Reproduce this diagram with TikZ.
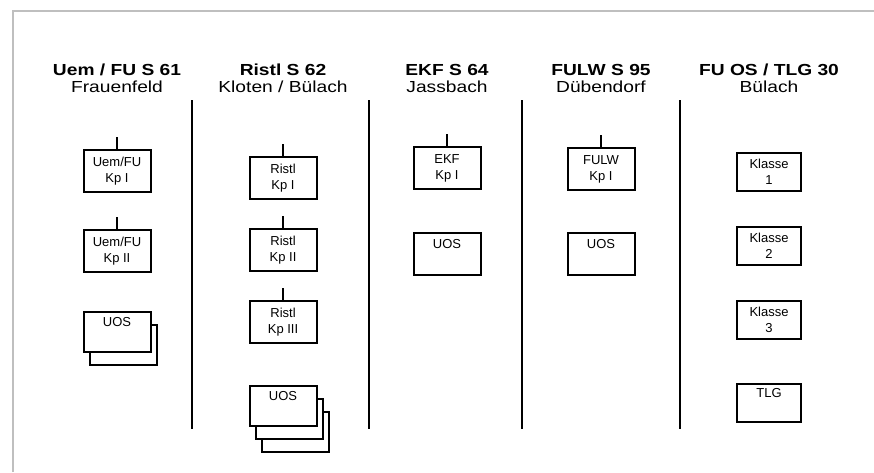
\documentclass[tikz,border=0pt]{standalone}
\usepackage{fontspec}
\setmainfont{Liberation Sans}
\newfontfamily\widesans[FakeStretch=1.2]{Liberation Sans}
\usetikzlibrary{positioning}

\begin{document}
\begin{tikzpicture}[x=1pt, y=-1pt, line width=2pt,
        every node/.style={inner sep=0pt},
        head/.style={anchor=base, font=\fontsize{16}{18}\widesans\bfseries},
        place/.style={anchor=base, font=\fontsize{16}{18}\widesans},
        unit/.style={draw, fill=white, align=center, minimum width=67pt, minimum height=42pt, font=\fontsize{13}{16}\selectfont},
        klasse/.style={unit, minimum width=64pt, minimum height=38pt}]
        \useasboundingbox (0,0) rectangle (874,472);
        % frame
        \draw[black!25] (13,472) -- (13,11) -- (874,11);
        % separators
        \foreach \x in {192,369,522,680} \draw (\x,100) -- (\x,429);
        % Uem / FU S 61
        \node[head] (h1) at (117,75) {Uem / FU S 61}; \node[place] (p1) at (117,92) {Frauenfeld};
        \node[unit] (uem1) at (117,171) {Uem/FU\\Kp I}; \draw (uem1.north) -- ++(0,-12);
        \node[unit] (uem2) at (117,251) {Uem/FU\\Kp II}; \draw (uem2.north) -- ++(0,-12);
        \node[unit, minimum height=40pt] (uosAb) at (123,345) {};
        \node[unit, minimum height=40pt] (uosA) at (117,332) {UOS\\\strut};
        % Ristl S 62
        \node[head] (h2) at (283,75) {Ristl S 62}; \node[place] (p2) at (283,92) {Kloten / Bülach};
        \node[unit] (ristl1) at (283,178) {Ristl\\Kp I}; \draw (ristl1.north) -- ++(0,-12);
        \node[unit] (ristl2) at (283,250) {Ristl\\Kp II}; \draw (ristl2.north) -- ++(0,-12);
        \node[unit] (ristl3) at (283,322) {Ristl\\Kp III}; \draw (ristl3.north) -- ++(0,-12);
        \node[unit, minimum height=40pt] (uosBc) at (295,432) {};
        \node[unit, minimum height=40pt] (uosBb) at (289,419) {};
        \node[unit, minimum height=40pt] (uosB) at (283,406) {UOS\\\strut};
        % EKF S 64
        \node[head] (h3) at (447,75) {EKF S 64}; \node[place] (p3) at (447,92) {Jassbach};
        \node[unit] (ekf1) at (447,168) {EKF\\Kp I}; \draw (ekf1.north) -- ++(0,-12);
        \node[unit] (uosC) at (447,254) {UOS\\\strut};
        % FULW S 95
        \node[head] (h4) at (601,75) {FULW S 95}; \node[place] (p4) at (601,92) {Dübendorf};
        \node[unit] (fulw1) at (601,169) {FULW\\Kp I}; \draw (fulw1.north) -- ++(0,-12);
        \node[unit] (uosD) at (601,254) {UOS\\\strut};
        % FU OS / TLG 30
        \node[head] (h5) at (769,75) {FU OS / TLG 30}; \node[place] (p5) at (769,92) {Bülach};
        \node[klasse] (kl1) at (769,172) {Klasse\\1};
        \node[klasse] (kl2) at (769,246) {Klasse\\2};
        \node[klasse] (kl3) at (769,320) {Klasse\\3};
        \node[klasse] (tlg) at (769,403) {TLG\\\strut};
    \end{tikzpicture}
\end{document}
